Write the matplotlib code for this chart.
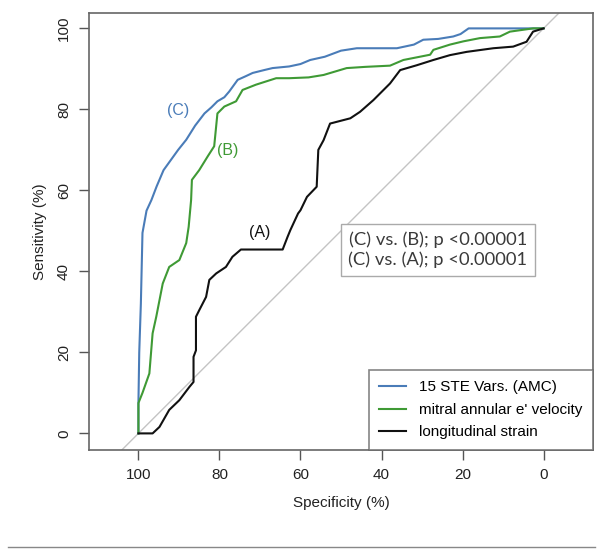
import matplotlib
matplotlib.use("Agg")
import matplotlib.pyplot as plt
from matplotlib.lines import Line2D

# ---- data (specificity %, sensitivity %) ----
spec_C = [100, 100, 99.8, 99.4, 99.0, 98.0, 96.8, 95.5, 93.8, 92.0, 90.2, 88.2, 86.0, 83.7, 82.0,
          80.5, 78.8, 77.6, 75.5, 73.5, 71.8, 69.0, 66.9, 62.8, 60.0, 57.6, 54.0, 50.0, 46.1,
          36.2, 32.0, 29.7, 26.0, 22.3, 20.5, 18.5, 10.0, 0]
sens_C = [0, 7.5, 20, 32, 49.5, 55, 57.6, 61.0, 65, 67.5, 70.0, 72.5, 76.0, 79, 80.5,
          82, 83.0, 84.4, 87.3, 88.2, 89, 89.7, 90.2, 90.6, 91.2, 92.2, 93.0, 94.5, 95.1,
          95.1, 96.0, 97.2, 97.4, 98, 98.6, 100, 100, 100]

spec_B = [100, 100, 99.0, 97.3, 96.5, 95.6, 94.0, 92.4, 89.9, 88.2, 87.6, 87.0, 86.8, 85.0,
          82.9, 81.3, 80.5, 78.8, 75.9, 74.3, 71.0, 66.0, 62.8, 58.0, 54.3, 48.6, 44.0, 37.9,
          34.6, 28.0, 27.2, 23.1, 19.8, 15.7, 10.8, 8.3, 2.6, 0]
sens_B = [0, 7.5, 10, 14.8, 24.7, 28.8, 37, 41.1, 42.8, 47, 51, 57.6, 62.6, 65,
          68.4, 70.9, 79, 80.7, 82, 84.8, 86.1, 87.7, 87.7, 87.9, 88.5, 90.2, 90.5, 90.8,
          92.2, 93.5, 94.7, 96, 96.8, 97.6, 98, 99.2, 100, 100]

spec_A = [100, 96.5, 94.8, 92.4, 89.9, 87.4, 86.4, 86.4, 85.8, 85.8, 85.0, 83.3, 82.5, 80.8,
          78.4, 76.8, 74.7, 64.4, 63.2, 62.5, 60.6, 60.0, 58.4, 56.0, 55.6, 54.3, 52.7, 47.7,
          45.3, 42.0, 37.9, 35.4, 31.3, 27.2, 23.1, 19.0, 12.4, 7.5, 4.2, 2.6, 0]
sens_A = [0, 0, 1.6, 5.8, 8.2, 11.5, 12.7, 18.9, 20.5, 28.8, 30.4, 33.7, 37.9, 39.5,
          41.1, 43.6, 45.4, 45.4, 48.5, 50.2, 54.3, 55.1, 58.4, 60.9, 70.0, 72.4, 76.5, 77.8,
          79.4, 82.3, 86.4, 89.7, 90.9, 92.2, 93.4, 94.2, 95.1, 95.5, 96.7, 99.2, 100]

series_names = ["15 STE Vars. (AMC)", "mitral annular e' velocity", "longitudinal strain"]
series_colors = ["#4a7cb8", "#3f9a35", "#111111"]
curve_labels = ["(C)", "(B)", "(A)"]
label_pos = [(90.1, 79.7), (78.0, 69.8), (70.0, 49.6)]
ticks = [0, 20, 40, 60, 80, 100]
annotation = "(C) vs. (B); p <0.00001\n(C) vs. (A); p <0.00001"

plt.rcParams['font.family'] = ['Liberation Sans', 'DejaVu Sans']

fig = plt.figure(figsize=(6.04, 5.57), dpi=100)
ax = fig.add_axes([89/604, 1-450/557, (593-89)/604, (450-13)/557])

ax.plot([112.2, -12.2], [-12.2, 112.2], color="#c4c4c4", lw=1.0, zorder=1)

data = [(spec_C, sens_C), (spec_B, sens_B), (spec_A, sens_A)]
lines = []
for (sx, sy), col, lab in zip(data, series_colors, series_names):
    ln, = ax.plot(sx, sy, color=col, lw=1.5, label=lab, zorder=3)
    lines.append(ln)

for t, (px, py), col in zip(curve_labels, label_pos, series_colors):
    ax.text(px, py, t, color=col, fontsize=11.5, ha="center", va="center")

ax.set_xlim(112.2, -12.2)
ax.set_ylim(-4.1, 103.8)
ax.set_xticks(ticks)
ax.set_yticks(ticks)
ax.set_xticklabels([str(t) for t in ticks])
ax.set_yticklabels([str(t) for t in ticks], rotation=90, va="center")
ax.tick_params(direction="out", length=7, width=1, color="#555555", labelsize=11,
               labelcolor="#222222", pad=6)
for s in ax.spines.values():
    s.set_color("#666666")
    s.set_linewidth(1.2)
ax.set_xlabel("Specificity (%)", fontsize=11, color="#222222", labelpad=10)
ax.set_ylabel("Sensitivity (%)", fontsize=11, color="#222222", labelpad=7)

leg = ax.legend(handles=lines, loc="lower right", fontsize=11, frameon=True,
                fancybox=False, borderaxespad=0, handlelength=1.75, handletextpad=0.85,
                borderpad=0.7, labelspacing=0.55)
leg.get_frame().set_edgecolor("#666666")
leg.get_frame().set_linewidth(1.2)

fig.text(438/604, 1-250/557, annotation, fontsize=13.2, family=['Lato', 'DejaVu Sans'],
         color="#3a3a3a", ha="center", va="center", linespacing=1.25,
         bbox=dict(boxstyle="square,pad=0.4", fc="white", ec="#aaaaaa", lw=1.0))

fig.add_artist(Line2D([8/604, 595/604], [1-547/557, 1-547/557], color="#888888", lw=1.0))

fig.savefig("out.png", dpi=100)
